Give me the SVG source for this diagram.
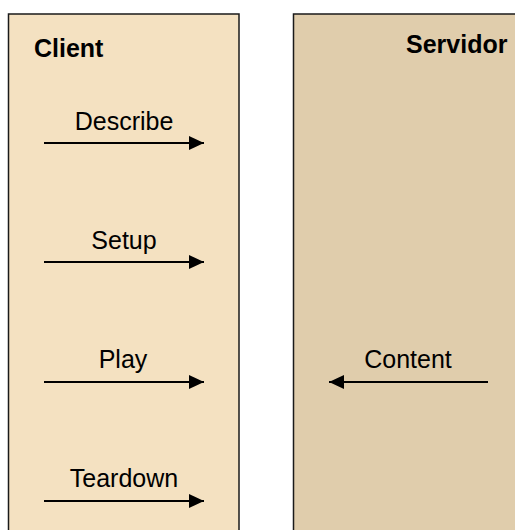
<svg xmlns="http://www.w3.org/2000/svg" width="515" height="530" viewBox="0 0 515 530">
  <style>
    .lane { stroke: #1a1a1a; stroke-width: 1.5; }
    .title { font-family: "Liberation Sans", Arial, sans-serif; font-size: 25px; font-weight: bold; fill: #000; }
    .label { font-family: "Liberation Sans", Arial, sans-serif; font-size: 25px; fill: #000; text-anchor: middle; }
    .msg { stroke: #000; stroke-width: 2; fill: none; }
  </style>
  <defs>
    <marker id="head" viewBox="0 0 15 14" refX="15" refY="7" markerWidth="15" markerHeight="14" markerUnits="userSpaceOnUse" orient="auto">
      <path d="M0,0 L15,7 L0,14 Z" fill="#000"/>
    </marker>
  </defs>

  <rect width="515" height="530" fill="#ffffff"/>

  <g id="client">
    <rect class="lane" x="8.5" y="14" width="230.5" height="520" fill="#F4E1C1"/>
    <text class="title" x="34" y="57">Client</text>
  </g>

  <g id="servidor">
    <rect class="lane" x="293.5" y="14" width="230" height="520" fill="#E0CDAC"/>
    <text class="title" x="406" y="53">Servidor</text>
  </g>

  <g id="connectors">
    <g id="describe">
      <line class="msg" x1="44" y1="143" x2="204" y2="143" marker-end="url(#head)"/>
      <text class="label" x="124" y="130">Describe</text>
    </g>
    <g id="setup">
      <line class="msg" x1="44" y1="262" x2="204" y2="262" marker-end="url(#head)"/>
      <text class="label" x="124" y="249">Setup</text>
    </g>
    <g id="play">
      <line class="msg" x1="44" y1="382" x2="204" y2="382" marker-end="url(#head)"/>
      <text class="label" x="123" y="368">Play</text>
    </g>
    <g id="teardown">
      <line class="msg" x1="44" y1="501" x2="204" y2="501" marker-end="url(#head)"/>
      <text class="label" x="124" y="487">Teardown</text>
    </g>
    <g id="content">
      <line class="msg" x1="488" y1="382" x2="329" y2="382" marker-end="url(#head)"/>
      <text class="label" x="408" y="368">Content</text>
    </g>
  </g>
</svg>
